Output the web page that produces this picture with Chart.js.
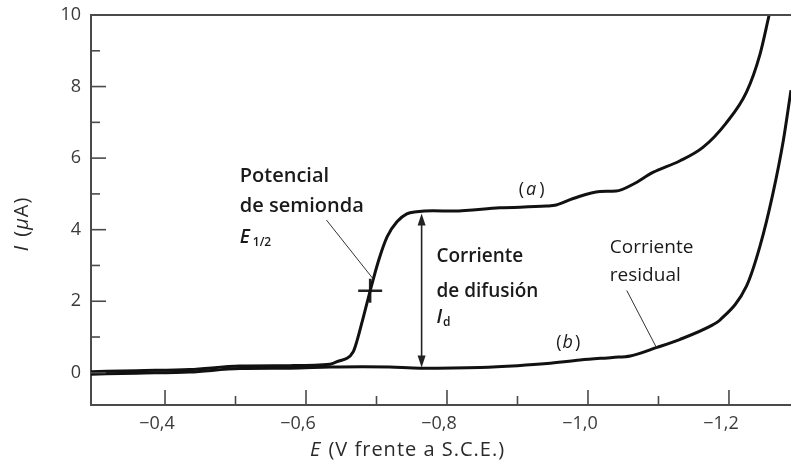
<!DOCTYPE html>
<html>
<head>
<meta charset="utf-8">
<script src="https://cdn.jsdelivr.net/npm/chart.js@4.4.1/dist/chart.umd.min.js"></script>
<style>
  html, body { margin: 0; padding: 0; background: #fff; overflow: hidden; }
  #wrap { width: 791px; height: 463px; position: relative; }
  #c { display: block; }
</style>
</head>
<body>
<div id="wrap"><canvas id="c"></canvas></div>
<script>
// Polarogram: (a) solution with the reducible species, (b) supporting electrolyte only
const potentialA = [-0.295, -0.36, -0.435, -0.506, -0.577, -0.634, -0.644, -0.667, -0.672, -0.681, -0.691,
  -0.703, -0.715, -0.729, -0.743, -0.757, -0.780, -0.809, -0.875, -0.941, -0.955, -0.979, -1.017,
  -1.040, -1.064, -1.092, -1.130, -1.163, -1.196, -1.225, -1.244, -1.257];
const currentA = [0.03, 0.06, 0.09, 0.19, 0.20, 0.24, 0.31, 0.59, 0.87, 1.53, 2.29,
  3.14, 3.80, 4.22, 4.44, 4.50, 4.53, 4.52, 4.61, 4.66, 4.69, 4.87, 5.07,
  5.08, 5.27, 5.60, 5.92, 6.30, 6.98, 7.85, 8.90, 10.0];

const potentialB = [-0.295, -0.36, -0.435, -0.506, -0.577, -0.634, -0.68, -0.719, -0.762, -0.847, -0.90,
  -0.942, -0.989, -1.035, -1.06, -1.098, -1.13, -1.177, -1.187, -1.225, -1.244, -1.262, -1.277, -1.288];
const currentB = [-0.04, -0.01, 0.02, 0.12, 0.13, 0.16, 0.17, 0.16, 0.13, 0.15, 0.20,
  0.26, 0.36, 0.43, 0.47, 0.71, 0.93, 1.34, 1.47, 2.43, 3.54, 4.98, 6.48, 7.90];

// Half-wave point and diffusion current span
const halfWavePotential = [-0.691];
const halfWaveCurrent = [2.29];
const diffusionPotential = -0.764;
const diffusionTop = 4.45;
const diffusionBottom = 0.15;

// Axis ticks
const xMajorTicks = [-0.4, -0.6, -0.8, -1.0, -1.2];
const xTickLabels = ['\u22120,4', '\u22120,6', '\u22120,8', '\u22121,0', '\u22121,2'];
const xMinorTicks = [-0.5, -0.7, -0.9, -1.1];
const yMajorTicks = [0, 2, 4, 6, 8, 10];
const yTickLabels = ['0', '2', '4', '6', '8', '10'];
const yMinorTicks = [1, 3, 5, 7, 9];

const FAMILY = '"Open Sans", "DejaVu Sans", sans-serif';
const AXIS_COLOR = '#4a4a4a';
const LINE_COLOR = '#111';
const TEXT_COLOR = '#1a1a1a';
const TICK_TEXT = '#3a3a3a';

const toPoints = (xs, ys) => xs.map((v, i) => ({ x: v, y: ys[i] }));

// draws a run of differently-styled text pieces starting at x (left aligned)
function drawRich(ctx, parts, x, y) {
  let cx = x;
  for (const p of parts) {
    ctx.font = p.font;
    ctx.fillText(p.t, cx, y + (p.dy || 0));
    cx += ctx.measureText(p.t).width + (p.gap || 0);
  }
  return cx - x;
}
function richWidth(ctx, parts) {
  let w = 0;
  for (const p of parts) { ctx.font = p.font; w += ctx.measureText(p.t).width + (p.gap || 0); }
  return w;
}

function arrowHead(ctx, x, y, dir) {
  const len = 12, half = 4;
  ctx.beginPath();
  ctx.moveTo(x, y);
  ctx.lineTo(x - half, y + dir * len);
  ctx.lineTo(x + half, y + dir * len);
  ctx.closePath();
  ctx.fill();
}

const overlay = {
  id: 'overlay',
  afterDatasetsDraw(chart) {
    const { ctx, chartArea: ca, scales: { x, y } } = chart;
    ctx.save();

    // top frame line
    ctx.strokeStyle = AXIS_COLOR;
    ctx.lineWidth = 2;
    const yTop = y.getPixelForValue(10);
    ctx.beginPath(); ctx.moveTo(ca.left, yTop); ctx.lineTo(ca.right, yTop); ctx.stroke();

    // inward tick marks
    ctx.lineWidth = 1.6;
    const tickY = (v, len) => { const p = y.getPixelForValue(v); ctx.beginPath(); ctx.moveTo(ca.left, p); ctx.lineTo(ca.left + len, p); ctx.stroke(); };
    const tickX = (v, len) => { const p = x.getPixelForValue(v); ctx.beginPath(); ctx.moveTo(p, ca.bottom); ctx.lineTo(p, ca.bottom - len); ctx.stroke(); };
    yMajorTicks.filter(v => v < 10).forEach(v => tickY(v, 15));
    yMinorTicks.forEach(v => tickY(v, 9));
    xMajorTicks.forEach(v => tickX(v, 15));
    xMinorTicks.forEach(v => tickX(v, 9));

    // diffusion current double arrow
    ctx.strokeStyle = '#222';
    ctx.fillStyle = '#222';
    ctx.lineWidth = 1.6;
    const ax = x.getPixelForValue(diffusionPotential);
    const aTop = y.getPixelForValue(diffusionTop);
    const aBot = y.getPixelForValue(diffusionBottom);
    ctx.beginPath(); ctx.moveTo(ax, aTop + 6); ctx.lineTo(ax, aBot - 6); ctx.stroke();
    arrowHead(ctx, ax, aTop, 1);
    arrowHead(ctx, ax, aBot, -1);

    // leader lines
    ctx.strokeStyle = '#333';
    ctx.lineWidth = 1;
    const leader = (e1, i1, e2, i2) => {
      ctx.beginPath();
      ctx.moveTo(x.getPixelForValue(e1), y.getPixelForValue(i1));
      ctx.lineTo(x.getPixelForValue(e2), y.getPixelForValue(i2));
      ctx.stroke();
    };
    leader(-0.629, 4.27, -0.695, 2.63);
    leader(-1.055, 2.30, -1.097, 0.71);

    // annotation text
    ctx.fillStyle = TEXT_COLOR;
    ctx.textBaseline = 'alphabetic';
    ctx.textAlign = 'left';
    const bold20 = '600 20px ' + FAMILY;
    const bold19 = '600 19px ' + FAMILY;
    const boldIt = 'italic 600 19px ' + FAMILY;
    const boldSub = '600 12px ' + FAMILY;
    const reg = '400 18px ' + FAMILY;
    const regIt = 'italic 400 18px ' + FAMILY;
    const px = v => x.getPixelForValue(v), py = v => y.getPixelForValue(v);

    drawRich(ctx, [{ t: 'Potencial', font: bold20 }], px(-0.506), py(5.34));
    drawRich(ctx, [{ t: 'de semionda', font: bold20 }], px(-0.506), py(4.50));
    drawRich(ctx, [{ t: 'E', font: boldIt, gap: 3 }, { t: '1/2', font: boldSub, dy: 3 }], px(-0.506), py(3.63));

    drawRich(ctx, [{ t: 'Corriente', font: bold19 }], px(-0.785), py(3.11));
    drawRich(ctx, [{ t: 'de difusi\u00f3n', font: bold19 }], px(-0.785), py(2.13));
    drawRich(ctx, [{ t: 'I', font: boldIt, gap: 1 }, { t: 'd', font: boldSub, dy: 3 }], px(-0.785), py(1.39));

    const reg19 = '400 19px ' + FAMILY;
    drawRich(ctx, [{ t: 'Corriente', font: reg19 }], px(-1.031), py(3.35));
    drawRich(ctx, [{ t: 'residual', font: reg19 }], px(-1.031), py(2.57));

    const labelA = [{ t: '(', font: reg, gap: 2 }, { t: 'a', font: regIt, gap: 3 }, { t: ')', font: reg }];
    const labelB = [{ t: '(', font: reg, gap: 1 }, { t: 'b', font: regIt, gap: 2 }, { t: ')', font: reg }];
    ctx.textBaseline = 'middle';
    drawRich(ctx, labelA, px(-0.920) - richWidth(ctx, labelA) / 2, py(5.11));
    drawRich(ctx, labelB, px(-0.972) - richWidth(ctx, labelB) / 2, py(0.84));

    // axis titles
    ctx.fillStyle = '#2a2a2a';
    ctx.letterSpacing = '1px';
    const tFont = '400 20px ' + FAMILY;
    const tIt = 'italic 400 20px ' + FAMILY;
    const xTitle = [{ t: 'E', font: tIt, gap: 1 }, { t: ' (V frente a S.C.E.)', font: tFont }];
    drawRich(ctx, xTitle, px(-0.744) - richWidth(ctx, xTitle) / 2, 450);

    const yTitle = [{ t: 'I', font: tIt, gap: 2 }, { t: ' (', font: tFont }, { t: '\u03bc', font: tIt }, { t: 'A)', font: tFont }];
    ctx.save();
    ctx.translate(22, py(4.16));
    ctx.rotate(-Math.PI / 2);
    drawRich(ctx, yTitle, -richWidth(ctx, yTitle) / 2, 0);
    ctx.restore();

    ctx.restore();
  }
};

new Chart(document.getElementById('c'), {
  type: 'scatter',
  data: {
    datasets: [
      {
        label: '(a)',
        data: toPoints(potentialA, currentA),
        showLine: true,
        borderColor: LINE_COLOR,
        borderWidth: 3,
        pointRadius: 0,
        cubicInterpolationMode: 'monotone'
      },
      {
        label: '(b)',
        data: toPoints(potentialB, currentB),
        showLine: true,
        borderColor: LINE_COLOR,
        borderWidth: 3,
        pointRadius: 0,
        cubicInterpolationMode: 'monotone'
      },
      {
        label: 'E1/2',
        data: toPoints(halfWavePotential, halfWaveCurrent),
        showLine: false,
        pointStyle: 'cross',
        pointRadius: 12,
        borderWidth: 2.5,
        borderColor: '#222',
        backgroundColor: '#222'
      }
    ]
  },
  options: {
    responsive: true,
    maintainAspectRatio: false,
    animation: false,
    events: [],
    layout: { autoPadding: false, padding: { top: 15, right: 0, left: 0, bottom: 0 } },
    plugins: { legend: { display: false }, tooltip: { enabled: false }, title: { display: false } },
    scales: {
      x: {
        type: 'linear',
        min: -1.288,
        max: -0.295,
        reverse: true,
        afterFit: s => { s.height = 58; s.paddingLeft = 0; s.paddingRight = 0; },
        afterBuildTicks: s => { s.ticks = xMajorTicks.map(v => ({ value: v })); },
        grid: { display: false, drawTicks: false },
        border: { display: true, color: AXIS_COLOR, width: 2 },
        ticks: {
          autoSkip: false,
          maxRotation: 0,
          padding: 8,
          labelOffset: -8,
          color: TICK_TEXT,
          font: { family: FAMILY, size: 18 },
          callback: (v, i) => xTickLabels[i]
        }
      },
      y: {
        type: 'linear',
        min: -0.9,
        max: 10,
        afterFit: s => { s.width = 91; s.paddingTop = 0; s.paddingBottom = 0; },
        afterBuildTicks: s => { s.ticks = yMajorTicks.map(v => ({ value: v })); },
        grid: { display: false, drawTicks: false },
        border: { display: true, color: AXIS_COLOR, width: 2 },
        ticks: {
          autoSkip: false,
          padding: 10,
          color: TICK_TEXT,
          font: { family: FAMILY, size: 18 },
          callback: (v, i) => yTickLabels[i]
        }
      }
    }
  },
  plugins: [overlay]
});
</script>
</body>
</html>
